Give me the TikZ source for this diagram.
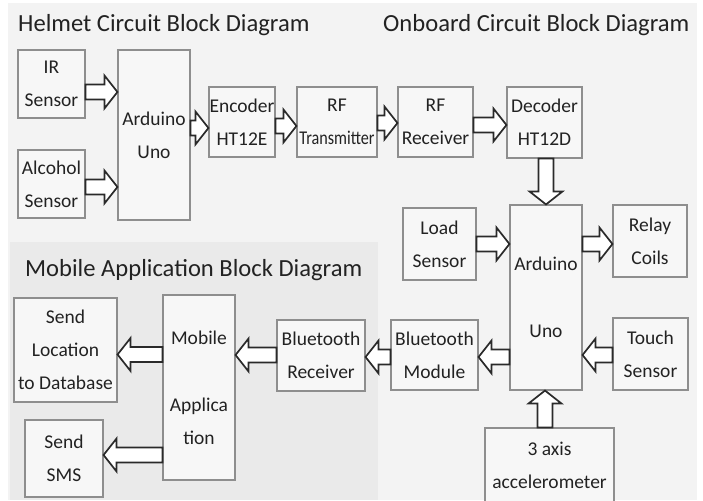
\documentclass[tikz,border=0pt]{standalone}
\usepackage{fontspec}
\usepackage{graphicx}
\setmainfont{Carlito}
\usetikzlibrary{calc}
\definecolor{bggray}{HTML}{F3F3F3}
\definecolor{mobgray}{HTML}{EAEAEA}
\definecolor{boxgray}{HTML}{8E8E8E}
\definecolor{boxfill}{HTML}{F7F7F7}
\definecolor{arrowcol}{HTML}{2A2A2A}
\definecolor{txt}{HTML}{222222}
\newcommand{\boxfont}{\fontsize{19.5}{33}\selectfont}
\newcommand{\titlefont}{\fontsize{24.6}{30}\selectfont}
\def\sw{7.5pt}
\def\hw{16.5pt}
\def\hl{13pt}
\newcommand{\harrow}[2]{%
  \draw[barrow] let \p1=#1, \p2=#2, \n1={(\x2>\x1)?1:-1} in
   (\x1,{\y1+\sw}) -- ({\x2-\n1*\hl},{\y1+\sw}) -- ({\x2-\n1*\hl},{\y1+\hw}) -- (\x2,\y1)
   -- ({\x2-\n1*\hl},{\y1-\hw}) -- ({\x2-\n1*\hl},{\y1-\sw}) -- (\x1,{\y1-\sw}) -- cycle;}
\newcommand{\varrow}[2]{%
  \draw[barrow] let \p1=#1, \p2=#2, \n1={(\y2>\y1)?1:-1} in
   ({\x1+\sw},\y1) -- ({\x1+\sw},{\y2-\n1*\hl}) -- ({\x1+\hw},{\y2-\n1*\hl}) -- (\x1,\y2)
   -- ({\x1-\hw},{\y2-\n1*\hl}) -- ({\x1-\sw},{\y2-\n1*\hl}) -- ({\x1-\sw},\y1) -- cycle;}
\tikzset{
  bx/.style={draw=boxgray, line width=1.1pt, fill=boxfill, align=center, font=\boxfont,
    text=txt, inner sep=0pt, minimum width=#1},
  barrow/.style={draw=arrowcol, line width=1.7pt, fill=white, line join=miter},
  ttl/.style={anchor=base west, font=\titlefont, text=txt, inner sep=0pt},
}
\begin{document}
\begin{tikzpicture}[x=1pt,y=-1pt]
\useasboundingbox (0,0) rectangle (703,500);
\fill[white] (0,0) rectangle (703,500);
\fill[bggray] (8,3) rectangle (697,500);
\fill[mobgray] (10,242) rectangle (378,500);

% titles
\node[ttl] (t1) at (18,32) {Helmet Circuit Block Diagram};
\node[ttl] (t2) at (383,32) {Onboard Circuit Block Diagram};
\node[ttl] (t3) at (25,276) {Mobile Application Block Diagram};

% helmet
\node[bx=67pt, minimum height=68pt] (ir) at (51.5,84) {IR\\Sensor};
\node[bx=67pt, minimum height=68pt] (alc) at (51.5,184) {Alcohol\\Sensor};
\node[bx=72pt, minimum height=170pt] (ard1) at (154,135) {Arduino\\Uno};
\node[bx=66pt, minimum height=70pt] (enc) at (242,122) {Encoder\\HT12E};
\node[bx=80pt, minimum height=70pt] (rftx) at (337,122) {RF\\\scalebox{0.83}[1]{Transmitter}};

% onboard
\node[bx=75pt, minimum height=70pt] (rfrx) at (435.5,122) {RF\\Receiver};
\node[bx=75pt, minimum height=71pt] (dec) at (544.5,122.5) {Decoder\\HT12D};
\node[bx=73pt, minimum height=72pt] (load) at (439.5,244) {Load\\Sensor};
\node[bx=72pt, minimum height=185pt] (ard2) at (546,297.5) {Arduino\\[34pt]Uno};
\node[bx=74pt, minimum height=72pt] (relay) at (650,241) {Relay\\Coils};
\node[bx=75pt, minimum height=72pt] (touch) at (650.5,354) {Touch\\Sensor};
\node[bx=87pt, minimum height=70pt] (btm) at (434.5,355) {Bluetooth\\Module};
\node[bx=129pt, minimum height=74pt] (acc) at (549.5,465) {3 axis\\accelerometer};

% mobile
\node[bx=88pt, minimum height=71pt] (btr) at (321,355.5) {Bluetooth\\Receiver};
\node[bx=72pt, minimum height=185pt] (mob) at (199,387.5) {Mobile\\[34pt]Applica\\tion};
\node[bx=103pt, minimum height=104pt] (loc) at (65.5,350) {Send\\Location\\to Database};
\node[bx=78pt, minimum height=77pt] (sms) at (64,458.5) {Send\\SMS};

% arrows
\harrow{(ir.east |- 0,92)}{(ard1.west |- 0,92)}
\harrow{(alc.east |- 0,187)}{(ard1.west |- 0,187)}
\harrow{(ard1.east |- 0,128)}{(enc.west |- 0,128)}
\harrow{(enc.east |- 0,126)}{(rftx.west |- 0,126)}
\harrow{(rftx.east |- 0,123)}{(rfrx.west |- 0,123)}
\harrow{(rfrx.east |- 0,125)}{(dec.west |- 0,125)}
\varrow{(546,0 |- dec.south)}{(546,0 |- ard2.north)}
\harrow{(load.east |- 0,244)}{(ard2.west |- 0,244)}
\harrow{(ard2.east |- 0,244)}{(relay.west |- 0,244)}
\harrow{(touch.west |- 0,355)}{(ard2.east |- 0,355)}
\harrow{(ard2.west |- 0,357)}{(btm.east |- 0,357)}
\harrow{(btm.west |- 0,357)}{(btr.east |- 0,357)}
\harrow{(btr.west |- 0,355)}{(mob.east |- 0,355)}
\harrow{(mob.west |- 0,354.5)}{(loc.east |- 0,354.5)}
\harrow{(mob.west |- 0,455)}{(sms.east |- 0,455)}
\varrow{(545,0 |- acc.north)}{(545,0 |- ard2.south)}
\end{tikzpicture}
\end{document}
